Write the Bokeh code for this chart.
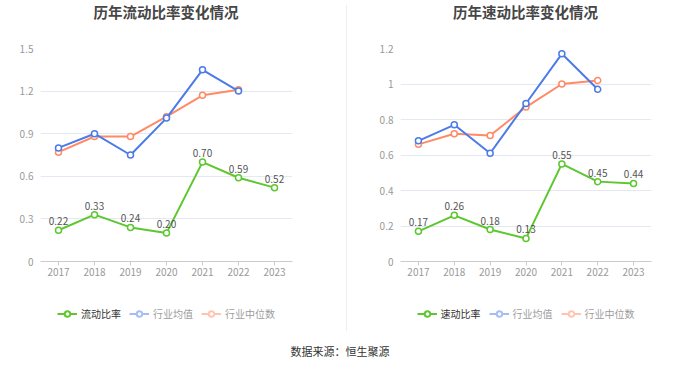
from bokeh.plotting import figure
from bokeh.layouts import row, column
from bokeh.models import (ColumnDataSource, FactorRange, Range1d, FixedTicker,
                          Legend, LegendItem, Div)
from bokeh.embed import file_html
from bokeh.resources import INLINE
from bokeh.core.properties import value

# ---- data ----
years = ["2017", "2018", "2019", "2020", "2021", "2022", "2023"]
current_ratio = [0.22, 0.33, 0.24, 0.20, 0.70, 0.59, 0.52]
current_ind_mean = [0.80, 0.90, 0.75, 1.01, 1.35, 1.20]
current_ind_median = [0.77, 0.88, 0.88, 1.02, 1.17, 1.21]
quick_ratio = [0.17, 0.26, 0.18, 0.13, 0.55, 0.45, 0.44]
quick_ind_mean = [0.68, 0.77, 0.61, 0.89, 1.17, 0.97]
quick_ind_median = [0.66, 0.72, 0.71, 0.87, 1.00, 1.02]
left_ticks = [0, 0.3, 0.6, 0.9, 1.2, 1.5]
left_tick_labels = ["0", "0.3", "0.6", "0.9", "1.2", "1.5"]
right_ticks = [0, 0.2, 0.4, 0.6, 0.8, 1.0, 1.2]
right_tick_labels = ["0", "0.2", "0.4", "0.6", "0.8", "1", "1.2"]

FONT = "Noto Sans CJK SC"
GREEN = "#5cc72e"
BLUE = "#4b7be8"
ORANGE = "#ff8a65"


def make_chart(title, ticks, tick_labels, main, mean, median, main_name,
               width, b_left, b_right):
    head = Div(text=title, width=width - b_left - b_right, height=24,
               margin=(0, b_right, 0, b_left),
               styles={"text-align": "center", "font-size": "14.5px",
                       "font-weight": "bold", "color": "#464646",
                       "line-height": "24px", "font-family": FONT})

    p = figure(width=width, height=264,
               x_range=FactorRange(*years),
               y_range=Range1d(ticks[0], ticks[-1]),
               output_backend="svg", toolbar_location=None,
               min_border_left=b_left, min_border_right=b_right,
               min_border_top=24, min_border_bottom=27)
    p.outline_line_color = None

    # axes
    p.yaxis.ticker = FixedTicker(ticks=ticks)
    p.yaxis.major_label_overrides = {t: l for t, l in zip(ticks, tick_labels)}
    p.yaxis.axis_line_color = None
    p.yaxis.major_tick_line_color = None
    p.yaxis.major_tick_out = 0
    p.yaxis.major_tick_in = 0
    p.yaxis.minor_tick_line_color = None
    p.yaxis.major_label_standoff = 7
    p.yaxis.major_label_text_font = FONT
    p.yaxis.major_label_text_font_size = "10px"
    p.yaxis.major_label_text_color = "#999999"

    p.xaxis.axis_line_color = "#cccccc"
    p.xaxis.major_tick_line_color = "#cccccc"
    p.xaxis.major_tick_out = 4
    p.xaxis.major_tick_in = 0
    p.xaxis.major_label_standoff = 2
    p.xaxis.major_label_text_font = FONT
    p.xaxis.major_label_text_font_size = "10px"
    p.xaxis.major_label_text_color = "#999999"

    p.xgrid.grid_line_color = None
    p.ygrid.grid_line_color = "#e4e8f2"
    p.ygrid.grid_line_width = 1

    src_main = ColumnDataSource(dict(x=years[:len(main)], y=main,
                                     t=["%.2f" % v for v in main]))
    src_mean = ColumnDataSource(dict(x=years[:len(mean)], y=mean))
    src_med = ColumnDataSource(dict(x=years[:len(median)], y=median))

    p.line("x", "y", source=src_med, line_color=ORANGE, line_width=2)
    p.scatter("x", "y", source=src_med, size=6, fill_color="white",
              line_color=ORANGE, line_width=1.5)
    p.line("x", "y", source=src_mean, line_color=BLUE, line_width=2)
    p.scatter("x", "y", source=src_mean, size=6, fill_color="white",
              line_color=BLUE, line_width=1.5)
    p.line("x", "y", source=src_main, line_color=GREEN, line_width=2)
    p.scatter("x", "y", source=src_main, size=6, fill_color="white",
              line_color=GREEN, line_width=1.5)
    p.text("x", "y", text="t", source=src_main, text_align="center",
           text_baseline="bottom", y_offset=-5, text_font=value(FONT),
           text_font_size="10px", text_color="#555555")

    # legend figure below the chart
    lg = figure(width=width, height=50,
                x_range=FactorRange(*years), y_range=Range1d(10, 11),
                output_backend="svg", toolbar_location=None,
                x_axis_location=None, y_axis_location=None,
                min_border_left=b_left, min_border_right=b_right,
                min_border_top=0, min_border_bottom=0)
    lg.outline_line_color = None
    lg.grid.grid_line_color = None
    m_l = lg.line("x", "y", source=src_main, line_color=GREEN, line_width=2)
    m_s = lg.scatter("x", "y", source=src_main, size=9, fill_color="white",
                     line_color=GREEN, line_width=2)
    b_l = lg.line("x", "y", source=src_mean, line_color=BLUE, line_width=2, visible=False)
    b_s = lg.scatter("x", "y", source=src_mean, size=9, fill_color="white",
                     line_color=BLUE, line_width=2, visible=False)
    o_l = lg.line("x", "y", source=src_med, line_color=ORANGE, line_width=2, visible=False)
    o_s = lg.scatter("x", "y", source=src_med, size=9, fill_color="white",
                     line_color=ORANGE, line_width=2, visible=False)

    legend = Legend(items=[
        LegendItem(label=main_name, renderers=[m_l, m_s]),
        LegendItem(label="行业均值", renderers=[b_l, b_s]),
        LegendItem(label="行业中位数", renderers=[o_l, o_s]),
    ], orientation="horizontal", location="center", click_policy="hide")
    legend.label_text_font = FONT
    legend.label_text_font_size = "10px"
    legend.label_text_color = "#333333"
    legend.glyph_width = 20
    legend.glyph_height = 14
    legend.label_standoff = 4
    legend.spacing = 8
    legend.padding = 2
    legend.margin = 0
    legend.border_line_color = None
    legend.background_fill_alpha = 0
    legend.inactive_fill_color = "white"
    legend.inactive_fill_alpha = 0.5
    lg.add_layout(legend, "center")
    return column(head, p, lg)


left = make_chart("历年流动比率变化情况", left_ticks, left_tick_labels,
                  current_ratio, current_ind_mean, current_ind_median,
                  "流动比率", 341, 40, 49)
right = make_chart("历年速动比率变化情况", right_ticks, right_tick_labels,
                   quick_ratio, quick_ind_mean, quick_ind_median,
                   "速动比率", 338, 48, 39)

divider = Div(width=1, height=326, styles={"background-color": "#eeeeee"})
source = Div(text="数据来源：恒生聚源", width=680, height=20, margin=(6, 0, 0, 0),
             styles={"text-align": "center", "font-size": "11px",
                     "color": "#333333", "font-family": FONT})

layout = column(row(left, divider, right), source)

open("out.html", "w").write(file_html(layout, INLINE))
